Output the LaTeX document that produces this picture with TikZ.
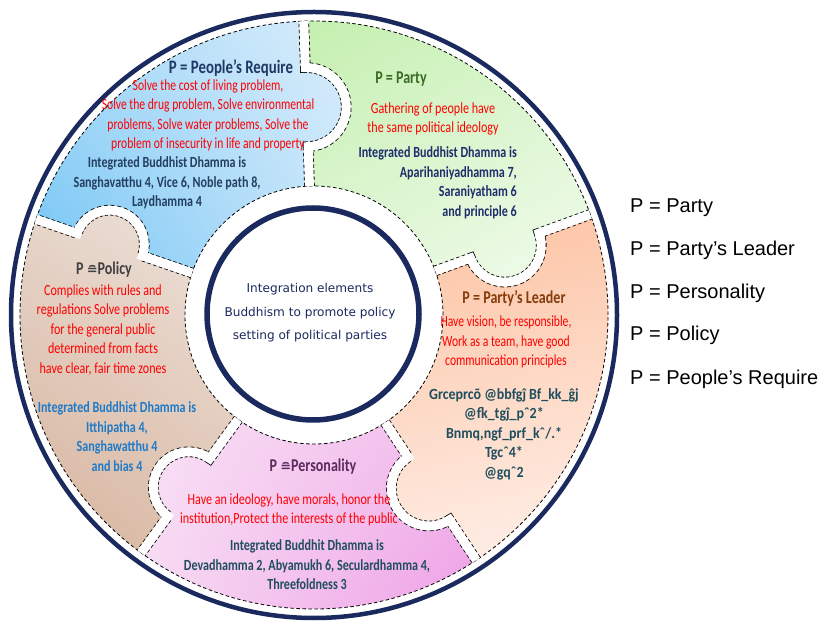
\documentclass[tikz,border=0pt]{standalone}
\usepackage{fontspec}
\usetikzlibrary{shadings}
\setmainfont{Carlito}
\newfontfamily\cond[FakeStretch=0.78]{Carlito}
\newfontfamily\condn[FakeStretch=0.75]{Carlito}
\newfontfamily\condw[FakeStretch=0.9]{Carlito}
\newfontfamily\dejavu{DejaVu Sans}
\newfontfamily\arialf{Liberation Sans}
\definecolor{ringnavy}{HTML}{1B2A5E}
\definecolor{bluettl}{HTML}{1F3864}
\definecolor{bluedark}{HTML}{243F60}
\definecolor{greenttl}{HTML}{3B6B24}
\definecolor{navyt}{HTML}{1F2D6B}
\definecolor{brownttl}{HTML}{843C0C}
\definecolor{tealt}{HTML}{1F4E5F}
\definecolor{purplettl}{HTML}{5C2A5E}
\definecolor{grayttl}{HTML}{404040}
\definecolor{bluet}{HTML}{1F7AC8}
\definecolor{redt}{HTML}{FF0000}
\definecolor{bUL}{RGB}{164,216,248}\definecolor{bUR}{RGB}{220,238,251}\definecolor{bLL}{RGB}{108,194,244}\definecolor{bLR}{RGB}{201,230,250}
\definecolor{gUL}{RGB}{195,239,174}\definecolor{gUR}{RGB}{217,245,204}\definecolor{gLL}{RGB}{226,247,216}\definecolor{gLR}{RGB}{243,252,239}
\definecolor{oUL}{RGB}{252,193,159}\definecolor{oUR}{RGB}{253,198,168}\definecolor{oLL}{RGB}{254,237,229}\definecolor{oLR}{RGB}{255,243,238}
\definecolor{pUL}{RGB}{249,226,246}\definecolor{pUR}{RGB}{242,188,235}\definecolor{pLL}{RGB}{247,219,243}\definecolor{pLR}{RGB}{238,156,229}
\definecolor{wUL}{RGB}{230,214,203}\definecolor{wUR}{RGB}{239,228,220}\definecolor{wLL}{RGB}{213,176,152}\definecolor{wLR}{RGB}{222,195,178}
\tikzset{
  bluesh/.style={upper left=bUL, upper right=bUR, lower left=bLL, lower right=bLR},
  greensh/.style={upper left=gUL, upper right=gUR, lower left=gLL, lower right=gLR},
  orangesh/.style={upper left=oUL, upper right=oUR, lower left=oLL, lower right=oLR},
  pinksh/.style={upper left=pUL, upper right=pUR, lower left=pLL, lower right=pLR},
  brownsh/.style={upper left=wUL, upper right=wUR, lower left=wLL, lower right=wLR},
  redtxt/.style={text=redt, font=\cond\fontsize{15.5}{19.5}\selectfont, align=center, inner sep=0pt},
  redtxtn/.style={text=redt, font=\condn\fontsize{15.5}{19.5}\selectfont, align=center, inner sep=0pt},
  boldtxt/.style={font=\cond\bfseries\fontsize{15.5}{19.5}\selectfont, align=center, inner sep=0pt},
  boldtxtw/.style={font=\condw\bfseries\fontsize{15.5}{19.5}\selectfont, align=center, inner sep=0pt},
  titletxt/.style={font=\cond\bfseries\fontsize{18}{20}\selectfont, inner sep=0pt},
  legend/.style={font=\arialf\fontsize{20}{24}\selectfont, anchor=west, inner sep=0pt},
  centertxt/.style={font=\dejavu\fontsize{12.1}{23.5}\selectfont, text=ringnavy, align=center, inner sep=0pt},
  bnd/.style={line width=10.6pt, dash pattern=on 3.5pt off 2.5pt, black},
  bndw/.style={line width=9pt, white},
}
\newcommand\corr{{\dejavu\fontsize{13}{13}\selectfont ≘}}
\begin{document}
\begin{tikzpicture}[x=1pt,y=1pt]
\useasboundingbox (0,0) rectangle (835,624);
\begin{scope}[shift={(314,309)}]
  % sectors
  \begin{scope}
    \clip (92:294) arc[start angle=92, end angle=161, radius=294] -- (161:129) arc[start angle=161, end angle=92, radius=129] -- cycle;
    \shade[bluesh] (-300,30) rectangle (50,300);
  \end{scope}
  \begin{scope}
    \clip (20:294) arc[start angle=20, end angle=92, radius=294] -- (92:129) arc[start angle=92, end angle=20, radius=129] -- cycle;
    \shade[greensh] (-15,25) rectangle (300,300);
  \end{scope}
  \begin{scope}
    \clip (303.5:294) arc[start angle=303.5, end angle=380, radius=294] -- (380:129) arc[start angle=380, end angle=303.5, radius=129] -- cycle;
    \shade[orangesh] (70,-265) rectangle (300,110);
  \end{scope}
  \begin{scope}
    \clip (234:294) arc[start angle=234, end angle=303.5, radius=294] -- (303.5:129) arc[start angle=303.5, end angle=234, radius=129] -- cycle;
    \shade[pinksh] (-180,-300) rectangle (175,-90);
  \end{scope}
  \begin{scope}
    \clip (161:294) arc[start angle=161, end angle=234, radius=294] -- (234:129) arc[start angle=234, end angle=161, radius=129] -- cycle;
    \shade[brownsh] (-300,-255) rectangle (-60,115);
  \end{scope}
  % knobs
  \begin{scope}\clip (92:208) circle (39.5); \shade[bluesh] (-300,30) rectangle (50,300); \end{scope}
  \begin{scope}\clip (161:216) circle (34.5); \shade[brownsh] (-300,-255) rectangle (-60,115); \end{scope}
  \begin{scope}\clip (234:213) circle (35.5); \shade[pinksh] (-180,-300) rectangle (175,-90); \end{scope}
  \begin{scope}\clip (303.5:208) circle (37.5); \shade[orangesh] (70,-265) rectangle (300,110); \end{scope}
  \begin{scope}\clip (20:203) circle (36.5); \shade[greensh] (-15,25) rectangle (300,300); \end{scope}
  % dashed outer and inner edges
  \draw[black, line width=0.8pt, dash pattern=on 3.5pt off 2.5pt] (0,0) circle (294);
  \draw[black, line width=0.8pt, dash pattern=on 3.5pt off 2.5pt] (0,0) circle (129);
  % boundaries between pieces
  \foreach \t/\rc/\k in {92/208/39.5, 161/216/34.5, 234/213/35.5, 303.5/208/37.5, 20/203/36.5} {
    \pgfmathsetmacro\ra{\rc-\k}
    \pgfmathsetmacro\sa{\t+180}
    \pgfmathsetmacro\ea{\t+360}
    \draw[bnd] (\t:129) -- (\t:\ra) arc[start angle=\sa, end angle=\ea, radius=\k] -- (\t:294);
  }
  \foreach \t/\rc/\k in {92/208/39.5, 161/216/34.5, 234/213/35.5, 303.5/208/37.5, 20/203/36.5} {
    \pgfmathsetmacro\ra{\rc-\k}
    \pgfmathsetmacro\sa{\t+180}
    \pgfmathsetmacro\ea{\t+360}
    \draw[bndw] (\t:129) -- (\t:\ra) arc[start angle=\sa, end angle=\ea, radius=\k] -- (\t:294);
  }
  % rings
  \draw[ringnavy, line width=4.5pt] (0,0) circle (303);
  \draw[ringnavy, line width=5.5pt, fill=white] (-1,1) circle (106);
\end{scope}

% People's Require
\node[titletxt, text=bluettl, font=\cond\bfseries\fontsize{19}{20}\selectfont] (t1) at (231,556) {P = People’s Require};
\node[redtxtn] (r1) at (208,508.5) {Solve the cost of living problem,\\Solve the drug problem, Solve environmental\\problems, Solve water problems, Solve the\\problem of insecurity in life and property};
\node[boldtxt, text=bluedark] (b1) at (167,441) {Integrated Buddhist Dhamma is\\Sanghavatthu 4, Vice 6, Noble path 8,\\Laydhamma 4};
% Party
\node[titletxt, text=greenttl] (t2) at (401,545) {P = Party};
\node[redtxt] (r2) at (433,505) {Gathering of people have\\the same political ideology};
\node[boldtxt, text=navyt, align=right, anchor=east] (b2) at (517,441) {Integrated Buddhist Dhamma is\\Aparihaniyadhamma 7,\\Saraniyatham 6\\and principle 6};
% Party's Leader
\node[titletxt, text=brownttl] (t3) at (514,326) {P = Party’s Leader};
\node[redtxtn] (r3) at (506,282) {Have vision, be responsible,\\Work as a team, have good\\communication principles};
\node[boldtxtw, text=tealt] (b3) at (504,190) {Grceprcõ @bbfgĵ Bf\_kk\_ĝj\\@fk\_tgĵ\_pˆ2*\\Bnmq,ngf\_prf\_kˆ/.*\\Tgcˆ4*\\@gqˆ2};
% Personality
\node[titletxt, text=purplettl] (t4) at (313,157) {P \corr Personality};
\node[redtxt] (r4) at (289,114) {Have an ideology, have morals, honor the\\institution,Protect the interests of the public};
\node[boldtxt, text=tealt] (b4) at (307,59) {Integrated Buddhit Dhamma is\\Devadhamma 2, Abyamukh 6, Seculardhamma 4,\\Threefoldness 3};
% Policy
\node[titletxt, text=grayttl] (t5) at (104,354) {P \corr Policy};
\node[redtxt] (r5) at (103,294) {Complies with rules and\\regulations Solve problems\\for the general public\\determined from facts\\have clear, fair time zones};
\node[boldtxt, text=bluet] (b5) at (117,187.5) {Integrated Buddhist Dhamma is\\Itthipatha 4,\\Sanghawatthu 4\\and bias 4};
% centre
\node[centertxt] (c) at (310,311) {Integration elements\\Buddhism to promote policy\\setting of political parties};
% legend
\node[legend] (l1) at (630,416) {P = Party};
\node[legend] (l2) at (630,374) {P = Party’s Leader};
\node[legend] (l3) at (630,331) {P = Personality};
\node[legend] (l4) at (630,289) {P = Policy};
\node[legend] (l5) at (630,245) {P = People’s Require};
\end{tikzpicture}
\end{document}
